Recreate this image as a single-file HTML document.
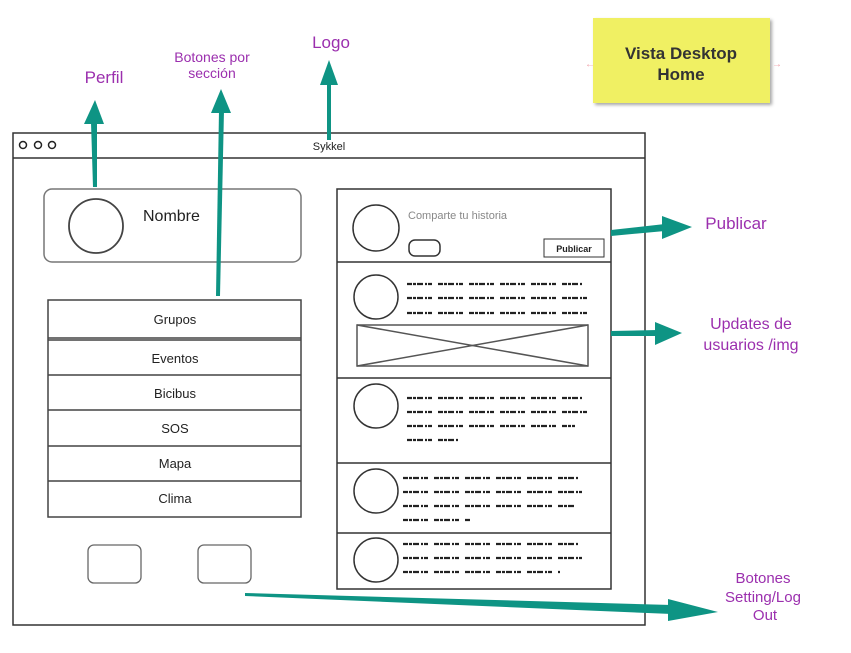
<!DOCTYPE html>
<html><head><meta charset="utf-8"><style>
body{margin:0;background:#fff;}
svg{display:block;}
.lbl{font-family:"Liberation Sans",sans-serif;fill:#9b2fae;font-size:16px;}
.t{font-family:"Liberation Sans",sans-serif;fill:#222;}
.sc{stroke:#222;stroke-width:2.2;fill:none;stroke-dasharray:5 1 3 1 6 2 2 1 4 6;}
</style></head><body>
<svg width="851" height="653" viewBox="0 0 851 653" xmlns="http://www.w3.org/2000/svg">
<defs><filter id="sh"><feDropShadow dx="2" dy="2" stdDeviation="1.5" flood-opacity="0.35"/></filter></defs>
<!-- sticky -->
<rect x="593" y="18" width="177" height="85" fill="#f0f064" filter="url(#sh)"/>
<text x="681" y="59" text-anchor="middle" font-family="Liberation Sans,sans-serif" font-weight="bold" font-size="17" fill="#333">Vista Desktop</text>
<text x="681" y="80" text-anchor="middle" font-family="Liberation Sans,sans-serif" font-weight="bold" font-size="17" fill="#333">Home</text>
<text x="585" y="67" font-size="10" fill="#f0a0a8" font-family="Liberation Sans">←</text>
<text x="772" y="67" font-size="10" fill="#f0a0a8" font-family="Liberation Sans">→</text>
<!-- window -->
<rect x="13" y="133" width="632" height="492" fill="none" stroke="#333" stroke-width="1.5"/>
<line x1="13" y1="158" x2="645" y2="158" stroke="#333" stroke-width="1.5"/>
<circle cx="23" cy="145" r="3.5" fill="none" stroke="#222" stroke-width="1.5"/>
<circle cx="38" cy="145" r="3.5" fill="none" stroke="#222" stroke-width="1.5"/>
<circle cx="52" cy="145" r="3.5" fill="none" stroke="#222" stroke-width="1.5"/>
<text x="329" y="150" text-anchor="middle" class="t" font-size="11">Sykkel</text>
<!-- profile -->
<rect x="44" y="189" width="257" height="73" rx="8" fill="none" stroke="#777" stroke-width="1.5"/>
<circle cx="96" cy="226" r="27" fill="none" stroke="#444" stroke-width="1.8"/>
<text x="143" y="221" class="t" font-size="16">Nombre</text>
<!-- menu -->
<g fill="none" stroke="#444" stroke-width="1.5">
<rect x="48" y="300" width="253" height="217"/>
<line x1="48" y1="338" x2="301" y2="338"/><line x1="48" y1="340" x2="301" y2="340"/>
<line x1="48" y1="375" x2="301" y2="375"/><line x1="48" y1="410" x2="301" y2="410"/>
<line x1="48" y1="446" x2="301" y2="446"/><line x1="48" y1="481" x2="301" y2="481"/>
</g>
<g class="t" font-size="13" text-anchor="middle">
<text x="175" y="324">Grupos</text><text x="175" y="363">Eventos</text>
<text x="175" y="398">Bicibus</text><text x="175" y="433">SOS</text>
<text x="175" y="468">Mapa</text><text x="175" y="503">Clima</text>
</g>
<rect x="88" y="545" width="53" height="38" rx="6" fill="none" stroke="#666" stroke-width="1.3"/>
<rect x="198" y="545" width="53" height="38" rx="6" fill="none" stroke="#666" stroke-width="1.3"/>
<!-- feed -->
<g fill="none" stroke="#333" stroke-width="1.5">
<rect x="337" y="189" width="274" height="400"/>
<line x1="337" y1="262" x2="611" y2="262"/><line x1="337" y1="378" x2="611" y2="378"/>
<line x1="337" y1="463" x2="611" y2="463"/><line x1="337" y1="533" x2="611" y2="533"/>
<circle cx="376" cy="228" r="23"/><circle cx="376" cy="297" r="22"/>
<circle cx="376" cy="406" r="22"/><circle cx="376" cy="491" r="22"/><circle cx="376" cy="560" r="22"/>
<rect x="409" y="240" width="31" height="16" rx="6"/>
<rect x="544" y="239" width="60" height="18" stroke-width="1"/>
<rect x="357" y="325" width="231" height="41" stroke="#555"/>
<line x1="357" y1="325" x2="588" y2="366" stroke="#555"/><line x1="357" y1="366" x2="588" y2="325" stroke="#555"/>
</g>
<text x="408" y="219" font-family="Liberation Sans,sans-serif" font-size="11" fill="#888">Comparte tu historia</text>
<text x="574" y="252" text-anchor="middle" class="t" font-size="9" font-weight="bold">Publicar</text>
<g class="sc">
<line x1="407" y1="284" x2="582" y2="284"/><line x1="407" y1="298" x2="588" y2="298"/><line x1="407" y1="313" x2="592" y2="313"/>
<line x1="407" y1="398" x2="582" y2="398"/><line x1="407" y1="412" x2="588" y2="412"/><line x1="407" y1="426" x2="575" y2="426"/><line x1="407" y1="440" x2="458" y2="440"/>
<line x1="403" y1="478" x2="578" y2="478"/><line x1="403" y1="492" x2="582" y2="492"/><line x1="403" y1="506" x2="575" y2="506"/><line x1="403" y1="520" x2="470" y2="520"/>
<line x1="403" y1="544" x2="578" y2="544"/><line x1="403" y1="558" x2="582" y2="558"/><line x1="403" y1="572" x2="560" y2="572"/>
</g>
<!-- arrows -->
<g fill="#0e9484">
<polygon points="93,187 97,187 97,122 91,122"/><polygon points="84,124 104,124 95,100"/>
<polygon points="216,296 220,296 224,110 219,110"/><polygon points="211,113 231,113 221,89"/>
<polygon points="327,140 331,140 331,82 327,82"/><polygon points="320,85 338,85 329,60"/>
<polygon points="611,230 611,236 665,231 665,224"/><polygon points="662,216 662,239 692,227"/>
<polygon points="611,331 611,336 658,336 658,330"/><polygon points="655,322 655,345 682,333"/>
<polygon points="245,593 245,596 672,614 672,605"/><polygon points="668,599 668,621 718,612"/>
</g>
<!-- labels -->
<g class="lbl" text-anchor="middle">
<text x="104" y="83" font-size="17">Perfil</text>
<text x="212" y="62" font-size="14">Botones por</text>
<text x="212" y="78" font-size="14">sección</text>
<text x="331" y="48" font-size="17">Logo</text>
<text x="736" y="229" font-size="17">Publicar</text>
<text x="751" y="329" font-size="16">Updates de</text>
<text x="751" y="350" font-size="16">usuarios /img</text>
<text x="763" y="583" font-size="15">Botones</text>
<text x="763" y="602" font-size="15">Setting/Log</text>
<text x="765" y="620" font-size="15">Out</text>
</g>
</svg>
</body></html>
